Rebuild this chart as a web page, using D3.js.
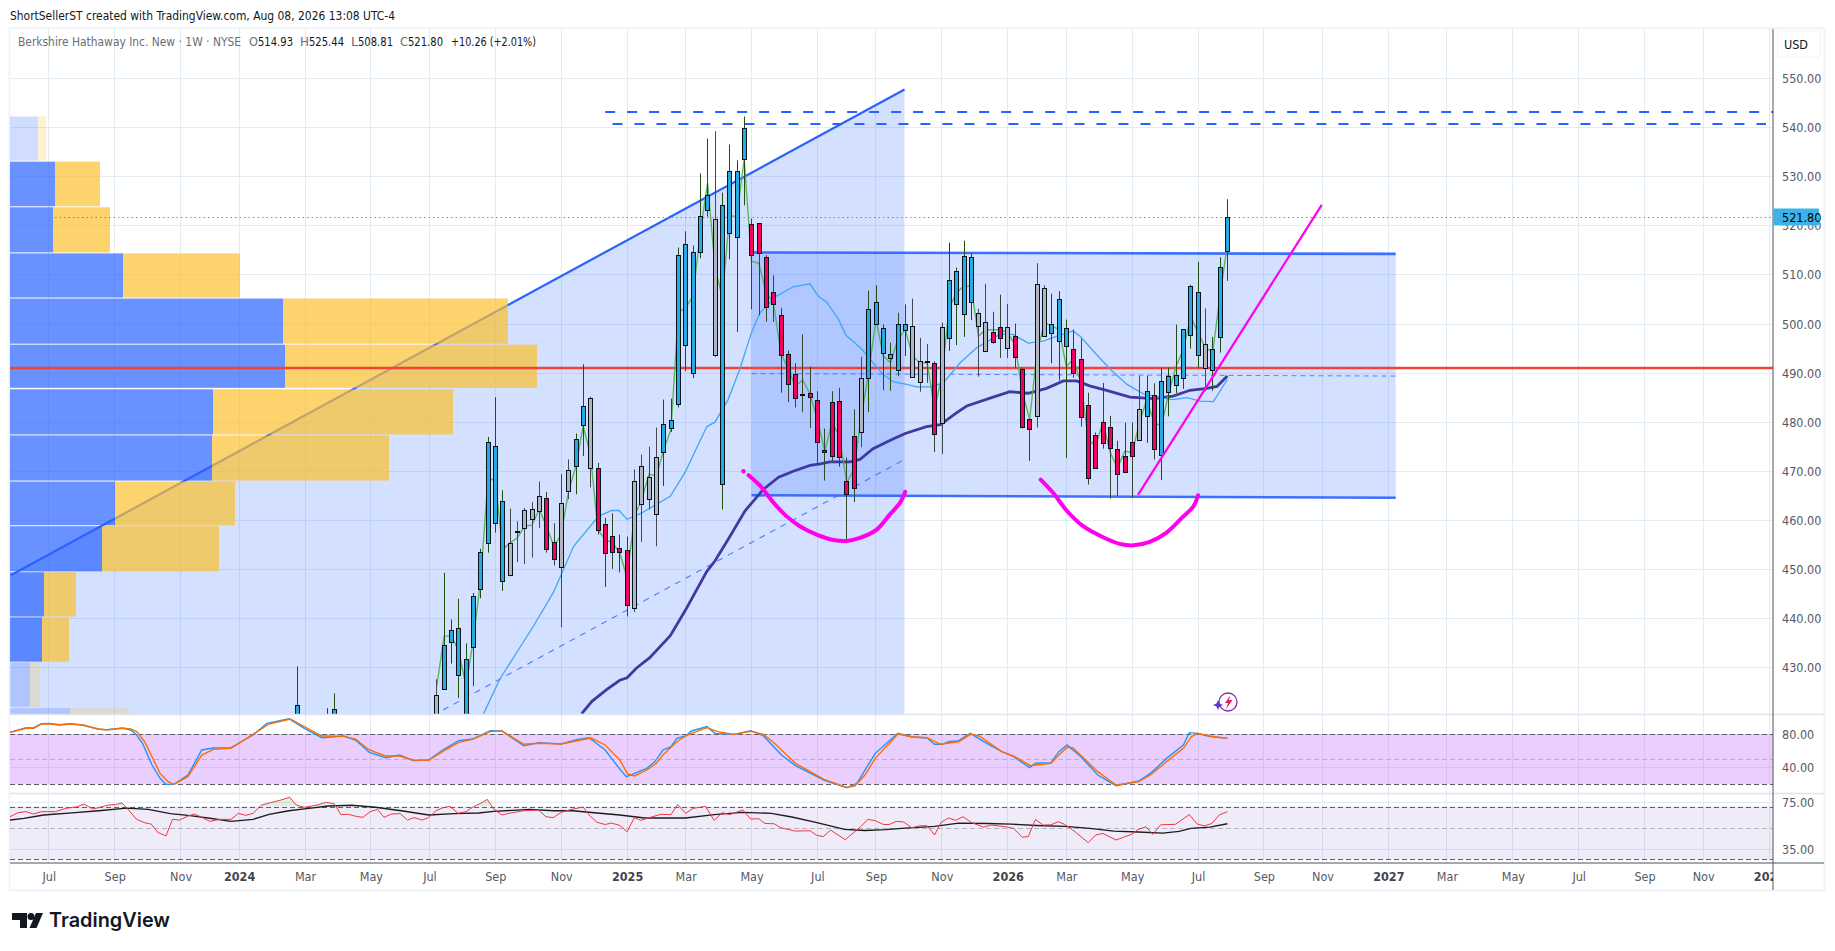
<!DOCTYPE html>
<html>
<head>
<meta charset="utf-8">
<script src="https://cdn.jsdelivr.net/npm/d3@7"></script>
<style>
  html, body { margin: 0; padding: 0; background: #fff; overflow: hidden; }
  text { font-family: 'DejaVu Sans Condensed', 'DejaVu Sans', sans-serif; }
</style>
</head>
<body>
<div id="app"></div>
<script>
'use strict'

// bars are counted back from the last weekly candle (0 = Aug 2026, negative = future)
const monthBars = [161, 152, 143, 135, 126, 117, 109, 100, 91, 82, 74, 65, 56, 48, 39, 30, 22, 13, 4, -5, -13, -22, -30, -39, -48, -57, -65, -74]
const monthLabels = ['Jul', 'Sep', 'Nov', '2024', 'Mar', 'May', 'Jul', 'Sep', 'Nov', '2025', 'Mar', 'May', 'Jul', 'Sep', 'Nov', '2026', 'Mar', 'May', 'Jul', 'Sep', 'Nov', '2027', 'Mar', 'May', 'Jul', 'Sep', 'Nov', '2028']
const priceTicks = [550, 540, 530, 520, 510, 500, 490, 480, 470, 460, 450, 440, 430]

const candleBars = [127, 123, 122].concat(d3.range(108, -1, -1))
const kinds = 'uuu g uuuuuuuuu ggggg dd gg uu g ddddd gggg uuuuuuu g uuuu ddddddddddddddd g uuuuuu ggg d g uuuu gg dd g ddd gg uuu ddddddddd g u d uuuuuu g uuu'.replace(/ /g, '')
const highs = [430.2, 421.7, 424.7, 427.6, 449.3, 439.8, 444.0, 434.9, 445.2, 454.2, 477.0, 485.1, 466.1, 462.4, 459.8, 462.5, 463.7, 467.9, 465.8, 459.4, 469.4, 472.4, 477.7, 491.8, 485.2, 471.7, 460.5, 461.4, 457.1, 456.7, 470.4, 473.4, 475.0, 478.9, 484.6, 484.8, 515.6, 518.9, 516.0, 530.7, 537.8, 539.3, 526.8, 536.6, 533.4, 542.3, 521.5, 520.5, 514.0, 509.9, 503.3, 494.6, 492.0, 497.9, 491.3, 486.3, 478.7, 486.3, 487.0, 472.8, 482.6, 493.3, 506.8, 507.9, 499.9, 496.2, 502.3, 504.0, 505.2, 497.2, 495.9, 492.4, 500.3, 516.6, 511.5, 517.0, 514.5, 503.1, 508.2, 502.5, 506.0, 504.1, 500.1, 491.1, 480.7, 512.4, 507.9, 506.2, 506.7, 500.9, 498.9, 497.0, 486.0, 477.9, 488.0, 481.3, 476.2, 479.9, 479.9, 489.5, 489.5, 487.9, 491.1, 491.1, 499.9, 498.9, 508.0, 512.7, 503.2, 497.4, 513.6, 525.44]
const bodyTops = [422.3, 418, 421.6, 424.4, 434.6, 437.7, 438.1, 431.8, 444.6, 453.6, 476.0, 475.2, 464.0, 455.4, 457.8, 462.2, 462.4, 465.0, 464.6, 455.6, 463.6, 470.3, 476.6, 483.2, 485.0, 470.7, 459.3, 456.7, 454.4, 454.0, 468.1, 471.1, 468.9, 473.0, 479.7, 480.5, 514.0, 516.4, 514.7, 522.1, 526.4, 521.5, 524.3, 531.1, 531.1, 540.0, 520.3, 520.5, 513.7, 506.6, 501.9, 493.8, 489.9, 485.8, 486.0, 484.6, 474.4, 484.2, 484.4, 468.1, 477.2, 489.1, 503.1, 504.4, 499.1, 493.8, 500.1, 500.1, 499.7, 492.5, 492.4, 492.1, 499.3, 509.0, 510.9, 513.9, 513.7, 502.3, 500.5, 498.4, 499.3, 499.3, 497.6, 490.9, 480.7, 508.2, 507.4, 500.1, 505.2, 499.1, 495.0, 492.9, 483.6, 477.4, 480.1, 479.1, 474.6, 473.2, 476.0, 482.7, 486.4, 485.6, 488.3, 489.5, 489.7, 498.9, 507.8, 506.6, 496.0, 495.0, 511.7, 521.80]
const bodyBottoms = [410, 410, 412, 410, 425.7, 435.3, 428.5, 415, 434.2, 446.1, 455.4, 459.5, 447.7, 448.9, 457.6, 458.5, 460.3, 462.0, 454.2, 452.2, 450.5, 466.0, 471.1, 479.3, 470.7, 458.1, 453.4, 453.4, 453.6, 442.8, 442.2, 463.4, 464.4, 461.3, 474.0, 478.9, 483.6, 495.8, 490.1, 514.7, 523.3, 493.8, 467.5, 518.4, 517.6, 533.7, 513.9, 514.3, 503.5, 504.1, 493.8, 487.6, 485.0, 485.6, 485.2, 476.0, 474.0, 473.2, 473.0, 465.4, 466.6, 478.1, 489.1, 499.9, 494.0, 492.9, 490.7, 498.9, 489.3, 488.3, 492.2, 477.7, 479.7, 497.2, 504.1, 502.1, 504.6, 499.7, 494.6, 496.4, 497.0, 495.0, 493.3, 479.1, 478.7, 481.3, 497.6, 498.2, 496.6, 495.4, 490.1, 481.1, 468.7, 470.7, 475.8, 474.8, 469.5, 469.9, 473.2, 476.4, 481.3, 474.6, 473.2, 486.2, 487.6, 488.9, 497.8, 493.8, 491.1, 490.7, 497.4, 514.93]
const lows = [405, 405, 408, 408, 425.7, 430.8, 423.8, 412, 426.2, 444.1, 453.4, 457.5, 445.6, 448.6, 451.5, 451.1, 452.4, 458.4, 453.4, 450.8, 438.2, 464.3, 465.3, 473.1, 466.7, 457.1, 446.4, 450.1, 449.4, 440.4, 441.3, 455.6, 462.2, 454.7, 467.0, 478.0, 483.0, 490.4, 489.0, 513.4, 521.9, 493.3, 462.2, 513.2, 498.4, 524.2, 503.0, 501.8, 500.5, 500.4, 486.0, 484.1, 483.0, 482.1, 478.8, 471.5, 468.1, 472.1, 470.9, 455.4, 463.7, 474.9, 482.1, 499.9, 486.5, 486.4, 489.4, 493.5, 489.3, 486.2, 488.0, 473.9, 473.5, 494.5, 495.7, 497.4, 500.8, 489.3, 494.6, 496.0, 493.1, 493.1, 491.1, 478.7, 472.1, 478.9, 497.6, 492.0, 488.5, 472.7, 489.1, 479.1, 467.3, 470.7, 474.6, 464.4, 464.9, 469.7, 464.6, 476.2, 475.8, 472.4, 468.2, 481.2, 485.9, 486.8, 495.0, 491.1, 486.3, 486.4, 494.2, 508.81]

// green short average, one value per candle from bar 108 to bar 0
const shortAverage = [426.2, 436.4, 436.4, 433.3, 426.2, 435.7, 447.9, 468.7, 468.0, 454.1, 455.4, 456.4, 458.8, 459.0, 462.2, 458.8, 454.7, 457.1, 465.9, 471.0, 479.2, 473.4, 458.1, 456.1, 455.4, 453.4, 448.3, 460.8, 464.3, 469.4, 469.0, 474.4, 478.5, 502.4, 503.3, 505.7, 518.6, 528.8, 511.8, 505.4, 522.0, 522.0, 533.6, 512.8, 512.4, 506.4, 504.3, 494.2, 490.8, 487.4, 488.6, 485.7, 480.6, 474.1, 479.9, 477.2, 467.7, 470.4, 481.2, 490.1, 500.9, 493.5, 492.1, 496.9, 498.9, 493.5, 492.1, 492.1, 482.6, 489.4, 503.3, 506.4, 507.7, 507.7, 497.5, 498.9, 498.8, 498.9, 498.2, 495.8, 486.0, 480.6, 494.2, 500.3, 499.6, 498.9, 491.4, 492.8, 488.0, 476.5, 475.1, 479.9, 473.8, 470.7, 474.1, 473.8, 479.9, 484.6, 479.9, 479.2, 486.0, 491.4, 494.8, 501.6, 498.2, 495.2, 494.2, 505.7, 516.2]

const fastBars = [101.6, 99.4, 97.1, 94.8, 92.1, 89.3, 85.9, 84.1, 83.1, 82, 80, 76.1, 74.1, 71.1, 70, 68.2, 66.6, 65, 63.8, 61.6, 59.3, 57, 55.9, 54.7, 53.1, 52.1, 50.9, 49.7, 48.4, 47, 45.6, 43.8, 42.4, 40.6, 38.8, 36.5, 34.2, 31.1, 29.3, 27.2, 25.2, 23.3, 21.1, 20.1, 18.3, 16, 13.7, 11.5, 9.2, 7.4, 5.5, 3.7, 1.9, 0]
const fastValues = [420.6, 427.6, 433.0, 438.4, 445.2, 454.7, 460.8, 462.0, 462.0, 460.2, 461.5, 464.9, 469.7, 479.1, 480.0, 484.6, 490.8, 498.3, 502.4, 505.7, 507.6, 508.2, 505.7, 504.4, 500.9, 497.7, 496.2, 494.5, 492.1, 489.7, 488.2, 487.7, 487.2, 487.2, 488.0, 492.1, 495.2, 497.9, 497.9, 496.1, 496.5, 497.5, 498.6, 497.5, 494.5, 490.8, 487.7, 485.8, 485.0, 484.6, 485.0, 484.3, 484.2, 488.7]
const slowBars = [88.2, 86.8, 84.8, 83, 82, 80.7, 78.9, 76.1, 74.1, 71.1, 70, 68.2, 65.9, 63.4, 61.3, 59.3, 57, 55.6, 54.3, 51.5, 50.2, 48.4, 45.6, 44, 41.1, 39.2, 37, 35.6, 32, 29.7, 27.2, 24.7, 22.4, 20.6, 18.8, 16.5, 13.3, 10.1, 7.4, 5.1, 2.8, 1.4, 0]
const slowValues = [420.6, 423.1, 425.5, 427.4, 427.9, 429.9, 432.0, 436.5, 441.5, 449.6, 451.7, 456.1, 461.9, 466.3, 468.8, 470.0, 471.2, 471.5, 471.9, 471.9, 472.4, 474.6, 476.6, 477.7, 479.1, 479.5, 481.9, 483.3, 485.1, 486.2, 485.9, 486.9, 488.4, 488.4, 487.4, 486.5, 485.1, 484.8, 485.3, 486.5, 486.9, 487.3, 489.4]

// visible range volume, top of each price bin and the two sides of the row
const profileTops = [542.3, 533.1, 523.8, 514.4, 505.2, 495.8, 486.7, 477.3, 467.9, 458.8, 449.4, 440.2, 431.0, 421.7]
const profileBottoms = [533.3, 524.0, 514.6, 505.4, 496.0, 487.0, 477.5, 468.1, 459.0, 449.6, 440.4, 431.2, 422.0, 412]
const profileBuy = [28, 45, 43, 113, 273, 275, 203, 202, 105, 92, 34, 32, 20, 60]
const profileSell = [8, 45, 57, 117, 225, 252, 240, 177, 120, 117, 32, 27, 10, 59]
const profileFaded = [true, false, false, false, false, false, false, false, false, false, false, false, true, true]

// drawings on the chart
const channelBars = [166.2, 44.1]
const channelPrices = [448.8, 547.8]
const channelLowerPrices = [373.5, 472.4]
const rangeBars = [65, -23]
const rangeTop = [514.6, 514.3]
const rangeMid = [489.9, 489.4]
const rangeBottom = [465.1, 464.6]
const resistanceA = 543.3
const resistanceB = 540.7
const supportLine = 491.0
const lastClose = 521.80
const riseBars = [12.2, -12.9]
const risePrices = [465.2, 524.3]
const cupLeftBars = [65.4, 63.8, 62, 60.2, 58.4, 56.1, 53.8, 52, 50.2, 47.9, 46.1, 44.7, 44]
const cupLeftPrices = [469.2, 467, 463.6, 460.8, 458.8, 457.1, 456, 455.8, 456.4, 458.1, 461.2, 463.6, 465.8]
const cupRightBars = [25.5, 23.8, 21.9, 19.7, 16.9, 14.7, 12.8, 10.6, 8.3, 6, 4.6, 4]
const cupRightPrices = [468.3, 465.6, 461.9, 458.8, 456.5, 455.2, 454.9, 455.6, 457.5, 460.8, 462.9, 465.1]

// stochastic pane
const stochKBars = [166.3, 164.1, 163.1, 162, 160.9, 159.6, 158, 156.3, 154.2, 153.1, 150.9, 149.8, 149, 148.2, 146.9, 145.8, 145, 143.9, 142, 140.1, 138.5, 136.1, 133.1, 131.2, 128.2, 126.1, 123.7, 120.7, 119.1, 117.2, 115, 113.1, 111.2, 109.1, 107.2, 105, 103.1, 100.7, 99.1, 96.1, 94, 91, 88.8, 87.2, 85, 83, 82.1, 79.3, 78.2, 77.1, 76, 75.2, 74, 73.2, 71.1, 70, 67.4, 65.1, 63.4, 60.9, 59, 55.1, 52, 50.6, 48.1, 45, 43.1, 41, 40, 38.9, 38.1, 36.7, 35.1, 33.1, 30.8, 29.2, 27, 26.2, 24.1, 23, 21.9, 20, 17.7, 15.2, 12.1, 10.5, 8.3, 6, 5.2, 4.1, 2.4, 0]
const stochK = [82, 87.6, 87.2, 92.3, 92.7, 91.1, 92.3, 90.4, 85.6, 85.2, 87.2, 84.8, 78.8, 68.9, 43, 27.1, 19.9, 19.9, 31, 60.9, 63.3, 63.7, 78.8, 92.7, 98.3, 86.8, 75.6, 77.6, 72.8, 58.1, 51.7, 54.9, 48.2, 49, 60.9, 72, 74, 84, 83.6, 66.1, 69.7, 68.1, 73.6, 75.6, 60.9, 38.2, 29.1, 39, 47, 60.9, 64.9, 74.8, 77.6, 83.6, 88.8, 80.8, 79.6, 84, 78, 54.9, 42.2, 25.1, 15.9, 21.1, 56.9, 80.8, 76.4, 75.2, 67.7, 67.7, 70.8, 72, 80.8, 70.1, 58.9, 52.9, 39.8, 45, 45.8, 58.9, 66.9, 52.9, 31, 18.3, 23.9, 33, 50.9, 66.9, 81.6, 80.8, 76.8, 74.8]
const stochDBars = [166.3, 164.1, 163.1, 162, 160.9, 159.6, 158, 156.3, 154.2, 153.1, 150.9, 149.8, 149, 147.9, 146.9, 145.8, 144.7, 143.9, 142, 140.1, 138.5, 136.1, 133.1, 130.9, 128, 126.1, 123.7, 120.7, 119.1, 117.2, 115, 113.1, 111.2, 109.1, 107.2, 105, 103.1, 100.7, 99.1, 96.1, 94, 91, 88.8, 86.9, 85, 83, 81.9, 81, 79.3, 78, 77.1, 75.2, 73.8, 71.1, 69.6, 67.4, 65.1, 63.4, 62.1, 60.9, 59, 55.1, 52, 50.9, 49.5, 48.1, 45, 43.1, 41, 39.2, 36.7, 35.1, 33.9, 30.8, 29.2, 26.9, 24.1, 23, 21.9, 21.1, 17.7, 15.2, 12.1, 10.5, 8.3, 6, 4.9, 4.1, 2.4, 0]
const stochD = [82, 86.8, 86.8, 91.9, 92.3, 90.8, 91.9, 90.8, 86, 84.8, 86.8, 86, 82.8, 70.8, 52.9, 33, 23.1, 19.9, 29.1, 54.9, 61.7, 62.9, 79.6, 91.9, 97.9, 88.8, 77.6, 77.2, 74, 60.9, 53.7, 53.7, 49, 48.6, 58.9, 70.1, 73.6, 82.8, 83.6, 67.7, 68.9, 68.1, 72, 75.2, 66.9, 49, 32.2, 29.9, 37, 45, 54.9, 70.8, 78.8, 87.6, 82.8, 79.6, 83.2, 79.6, 70.8, 60.9, 45, 25.9, 16.3, 17.9, 31, 50.9, 80, 76.8, 75.6, 67.7, 70.8, 79.6, 77.6, 58.9, 53.7, 42.2, 45, 54.9, 64.1, 63.7, 35, 19.1, 23.1, 31, 47, 62.9, 76.8, 80.8, 77.6, 74.8]
const stochLevels = [80, 50, 20]
const stochTicks = [80, 40]

// rsi pane
const rsiBars = [166.3, 165.2, 164.1, 163.1, 162, 160.1, 158.7, 157.1, 156.2, 155, 154.2, 152.8, 151.9, 151, 150.1, 149, 147.9, 147, 146.1, 145, 144.1, 143.1, 142, 141.1, 140.1, 139, 137.7, 136.1, 135.1, 134.1, 133.1, 132, 130.7, 129.3, 128.1, 127.2, 126.1, 124.5, 123.1, 122, 121.1, 120.1, 119, 118.1, 117.1, 116.1, 115.2, 114.2, 113, 112, 111.1, 110, 109.1, 108.1, 107.2, 106.2, 105.1, 104, 103, 102, 101.1, 100.2, 99.1, 97.7, 96.9, 96.1, 94.1, 93.1, 92.1, 91, 89.6, 88, 87.2, 86.1, 85, 84.1, 83, 82, 81, 80.1, 79.1, 77.4, 76, 75.1, 74, 73, 71.3, 70.1, 69, 68, 66.2, 65.1, 64, 63.2, 61.9, 61, 59, 57, 56.1, 55.2, 54.2, 52.2, 50.1, 49.1, 48.1, 47, 46.2, 45.2, 44.2, 43.1, 42, 41, 40, 39.1, 38.1, 37.1, 36.1, 35, 33.3, 32.2, 30.3, 29.2, 28, 27.2, 26.2, 25.2, 24.1, 23.1, 22.2, 21.1, 20, 19, 18, 17, 15.2, 13, 12.2, 11.1, 10.2, 9.1, 7.1, 5.2, 4.1, 3.1, 2.1, 1.1, 0]
const rsi = [59.5, 63.5, 64.5, 62.1, 64.5, 64.5, 68, 69.9, 73, 67.3, 68.8, 71.9, 72.3, 74.2, 66.2, 57, 54, 52.8, 46.2, 43.7, 57, 56.4, 60.1, 62.1, 58.9, 55.2, 57, 57, 62.8, 60.8, 62.8, 71.5, 74.6, 77.8, 81.3, 71.9, 69.2, 71.5, 75, 73.4, 61.5, 61.8, 59.8, 58.9, 64.5, 66.9, 58.9, 62.1, 62.5, 56.4, 58.6, 56.4, 58.6, 65.5, 68.6, 70.3, 62.8, 64.5, 69.9, 73.8, 78.6, 67.3, 61.2, 63.5, 64.5, 65.5, 66.2, 59.5, 58.6, 63.8, 66.9, 69.5, 61.2, 54.3, 52.5, 53.7, 51.7, 46.7, 58.6, 56.1, 58.3, 61.8, 61.5, 72.3, 62.8, 68, 70.3, 56.1, 63.5, 61.5, 66.2, 57.3, 57.6, 53.4, 53.1, 49.8, 47.2, 47.5, 44.1, 43.2, 48, 41.1, 50.6, 57, 55.8, 52.5, 52.5, 55.2, 54.6, 49.8, 51.4, 51.4, 44.3, 54.3, 58.3, 56.1, 59.5, 54.3, 50.3, 52, 50.6, 49.3, 42.8, 43.2, 57, 52, 52.2, 54.9, 52.5, 48, 43.2, 39.2, 44.3, 45.5, 40.9, 45, 48.5, 50.6, 44.8, 52.3, 52.6, 61.5, 52.8, 51.4, 53.4, 61.2, 64.5]
const rsiMaBars = [166.3, 164.4, 161.7, 157.4, 154.2, 150.4, 147.4, 144.4, 141.7, 139, 136.1, 133.1, 130.9, 128.2, 125.5, 122.8, 119.6, 116.4, 112.6, 109.1, 105.6, 102.3, 100.2, 95.3, 92.1, 89.4, 86.1, 83, 79.6, 74, 70.1, 66.2, 62.3, 59.5, 56.2, 52.3, 49.5, 46.7, 44, 40, 36.7, 32.8, 29.5, 26.1, 22.2, 18.8, 15.5, 12.2, 8.8, 6.6, 5, 2.4, 0]
const rsiMa = [56.4, 57.9, 61.2, 63.5, 65.5, 68.3, 66.9, 62.5, 60.5, 58, 55.2, 57, 61.8, 65.5, 68, 70.6, 71.5, 69.2, 65.2, 61.2, 62.5, 63.2, 64.8, 66.9, 65.5, 65.5, 63.2, 61.2, 58.3, 58.3, 61.5, 63.8, 62.8, 59.2, 54.3, 48.5, 47.7, 48.3, 49.5, 50.9, 53.7, 53.4, 52.8, 51.7, 50.9, 49.3, 47.2, 46.5, 45.7, 47, 49.3, 50.3, 53.1]
const rsiLevels = [70, 50, 30]
const rsiTicks = [75, 35]

const width = 1835
const height = 951
const plotLeft = 10
const plotRight = 1773
const plotTop = 29
const mainBottom = 714.5
const stochBottom = 793.5
const rsiBottom = 863
const frameBottom = 890

const bodyColor = { u: '#27aae1', d: '#f5005c', g: '#b2b5be' }
const wickColor = { u: '#234f0c', d: '#33472a', g: '#45484e' }

const x = d3.scaleLinear().domain([161, -74]).range([48.8, 1769])
const y = d3.scaleLinear().domain([540, 460]).range([127.8, 520.3])
const yStoch = d3.scaleLinear().domain([80, 40]).range([734, 767.5])
const yRsi = d3.scaleLog().domain([75, 35]).range([802.3, 849.7])
const profileX = d3.scaleLinear().domain([0, 600]).range([plotLeft, plotLeft + 600])

const svg = d3.select('#app').append('svg')
  .attr('width', width)
  .attr('height', height)

const defs = svg.append('defs')
defs.append('clipPath').attr('id', 'main-clip').append('rect')
  .attr('x', plotLeft).attr('y', plotTop).attr('width', plotRight - plotLeft).attr('height', mainBottom - plotTop)
defs.append('clipPath').attr('id', 'time-clip').append('rect')
  .attr('x', plotLeft).attr('y', rsiBottom).attr('width', plotRight - plotLeft).attr('height', frameBottom - rsiBottom)
defs.append('clipPath').attr('id', 'rsi-over').append('rect')
  .attr('x', plotLeft).attr('y', stochBottom).attr('width', plotRight - plotLeft).attr('height', yRsi(70) - stochBottom)

// header
svg.append('text')
  .attr('x', 10).attr('y', 19.5)
  .attr('textLength', 385).attr('lengthAdjust', 'spacingAndGlyphs')
  .style('font-size', '13px').style('fill', '#131722')
  .text('ShortSellerST created with TradingView.com, Aug 08, 2026 13:08 UTC-4')

// frame
svg.append('rect')
  .attr('x', 9.5).attr('y', 28).attr('width', 1815).attr('height', 862.5)
  .style('fill', 'none').style('stroke', '#f0f3fa').style('stroke-width', 2)

// grid
const grid = svg.append('g').style('shape-rendering', 'crispEdges')
grid.selectAll('.vgrid').data(monthBars).enter().append('line')
  .attr('x1', d => x(d)).attr('x2', d => x(d))
  .attr('y1', plotTop).attr('y2', rsiBottom)
  .style('stroke', '#e3ebf3').style('stroke-width', 1)
grid.selectAll('.hgrid').data(priceTicks).enter().append('line')
  .attr('x1', plotLeft).attr('x2', plotRight)
  .attr('y1', d => y(d)).attr('y2', d => y(d))
  .style('stroke', '#e3ebf3').style('stroke-width', 1)
grid.selectAll('.sgrid').data(stochTicks).enter().append('line')
  .attr('x1', plotLeft).attr('x2', plotRight)
  .attr('y1', d => yStoch(d)).attr('y2', d => yStoch(d))
  .style('stroke', '#e3ebf3')
grid.selectAll('.rgrid').data(rsiTicks).enter().append('line')
  .attr('x1', plotLeft).attr('x2', plotRight)
  .attr('y1', d => yRsi(d)).attr('y2', d => yRsi(d))
  .style('stroke', '#e3ebf3')

const main = svg.append('g').attr('clip-path', 'url(#main-clip)')
const line = d3.line()

// channel fill and range box
main.append('path')
  .attr('d', line([
    [x(channelBars[0]), y(channelPrices[0])],
    [x(channelBars[1]), y(channelPrices[1])],
    [x(channelBars[1]), mainBottom],
    [x(channelBars[0]), mainBottom]
  ]))
  .style('fill', 'rgba(41,98,255,0.2)')
main.append('path')
  .attr('d', line([
    [x(rangeBars[0]), y(rangeTop[0])],
    [x(rangeBars[1]), y(rangeTop[1])],
    [x(rangeBars[1]), y(rangeBottom[1])],
    [x(rangeBars[0]), y(rangeBottom[0])]
  ]))
  .style('fill', 'rgba(41,98,255,0.2)')

const twoPoint = (bars, prices) => line(bars.map((b, i) => [x(b), y(prices[i])]))

main.append('path').attr('d', twoPoint(channelBars, channelPrices))
  .style('stroke', '#2962ff').style('stroke-width', 2.2).style('fill', 'none')
main.append('path').attr('d', twoPoint(channelBars, channelLowerPrices))
  .style('stroke', '#2962ff').style('stroke-width', 1.1).style('stroke-dasharray', '6 6').style('fill', 'none').style('opacity', 0.8)
main.append('path').attr('d', twoPoint(rangeBars, rangeTop))
  .style('stroke', '#2962ff').style('stroke-width', 2.6).style('fill', 'none').style('opacity', 0.9)
main.append('path').attr('d', twoPoint(rangeBars, rangeBottom))
  .style('stroke', '#2962ff').style('stroke-width', 2.6).style('fill', 'none').style('opacity', 0.9)
main.append('path').attr('d', twoPoint(rangeBars, rangeMid))
  .style('stroke', '#2962ff').style('stroke-width', 1).style('stroke-dasharray', '5 4').style('fill', 'none').style('opacity', 0.75)

// volume profile rows
const rows = main.selectAll('.row').data(profileBuy).enter().append('g')
  .style('opacity', (d, i) => profileFaded[i] ? 0.3 : 1)
rows.append('rect')
  .attr('x', profileX(0))
  .attr('y', (d, i) => y(profileTops[i]))
  .attr('width', d => profileX(d) - profileX(0))
  .attr('height', (d, i) => y(profileBottoms[i]) - y(profileTops[i]))
  .style('fill', 'rgba(41,98,255,0.7)')
rows.append('rect')
  .attr('x', d => profileX(d))
  .attr('y', (d, i) => y(profileTops[i]))
  .attr('width', (d, i) => profileX(profileSell[i]) - profileX(0))
  .attr('height', (d, i) => y(profileBottoms[i]) - y(profileTops[i]))
  .style('fill', 'rgba(251,192,45,0.7)')

// horizontal drawings, on whole pixels so they stay sharp
main.append('line')
  .attr('x1', x(85)).attr('x2', plotRight)
  .attr('y1', Math.round(y(resistanceA))).attr('y2', Math.round(y(resistanceA)))
  .style('stroke', '#2962ff').style('stroke-width', 2).style('stroke-dasharray', '10 12')
main.append('line')
  .attr('x1', x(84)).attr('x2', plotRight - 7)
  .attr('y1', Math.round(y(resistanceB))).attr('y2', Math.round(y(resistanceB)))
  .style('stroke', '#2962ff').style('stroke-width', 2).style('stroke-dasharray', '10 12')
main.append('line')
  .attr('x1', plotLeft).attr('x2', plotRight)
  .attr('y1', Math.round(y(supportLine))).attr('y2', Math.round(y(supportLine)))
  .style('stroke', '#f44336').style('stroke-width', 2.4)
main.append('line')
  .attr('x1', plotLeft).attr('x2', plotRight)
  .attr('y1', Math.round(y(lastClose)) + 0.5).attr('y2', Math.round(y(lastClose)) + 0.5)
  .style('stroke', '#29a9e0').style('stroke-width', 1).style('stroke-dasharray', '1.5 3')

// moving averages
const seriesLine = (bars, scale) => d3.line().x((d, i) => x(bars[i])).y(d => scale(d))
main.append('path').datum(slowValues)
  .attr('d', seriesLine(slowBars, y))
  .style('fill', 'none').style('stroke', '#3f3aa0').style('stroke-width', 2.8)
main.append('path').datum(fastValues)
  .attr('d', seriesLine(fastBars, y))
  .style('fill', 'none').style('stroke', '#42a5f5').style('stroke-width', 1.3)
main.append('path').datum(shortAverage)
  .attr('d', seriesLine(d3.range(108, -1, -1), y))
  .style('fill', 'none').style('stroke', '#4caf50').style('stroke-width', 1.4).style('opacity', 0.9)

// candles, snapped to the pixel grid like the original canvas
const snapX = d => Math.round(x(d) - 0.3)
const candles = main.selectAll('.candle').data(candleBars).enter().append('g')
candles.append('line')
  .attr('x1', d => snapX(d) + 0.5).attr('x2', d => snapX(d) + 0.5)
  .attr('y1', (d, i) => y(highs[i])).attr('y2', (d, i) => y(lows[i]))
  .style('stroke', (d, i) => wickColor[kinds[i]]).style('stroke-width', 1)
candles.append('rect')
  .attr('x', d => snapX(d) - 1.5)
  .attr('width', 4)
  .attr('y', (d, i) => Math.round(y(bodyTops[i])) + 0.5)
  .attr('height', (d, i) => Math.max(1, Math.round(y(bodyBottoms[i]) - y(bodyTops[i]))))
  .style('fill', (d, i) => bodyColor[kinds[i]])
  .style('stroke', '#05141c').style('stroke-width', 1)

// hand drawn cups and the rising line
const cupLine = (bars, prices) => d3.line().curve(d3.curveCatmullRom)(bars.map((b, i) => [x(b), y(prices[i])]))
main.append('circle').attr('cx', x(66.1)).attr('cy', y(470)).attr('r', 2.2).style('fill', '#ff00ee')
main.append('path').attr('d', cupLine(cupLeftBars, cupLeftPrices))
  .style('fill', 'none').style('stroke', '#ff00ee').style('stroke-width', 4).style('stroke-linecap', 'round')
main.append('path').attr('d', cupLine(cupRightBars, cupRightPrices))
  .style('fill', 'none').style('stroke', '#ff00ee').style('stroke-width', 4).style('stroke-linecap', 'round')
main.append('path').attr('d', twoPoint(riseBars, risePrices))
  .style('fill', 'none').style('stroke', '#ff00ee').style('stroke-width', 2.2)

// pane separators
svg.selectAll('.sep').data([mainBottom, stochBottom]).enter().append('line')
  .attr('x1', plotLeft).attr('x2', 1824)
  .attr('y1', d => d).attr('y2', d => d)
  .style('stroke', '#e0e3eb').style('stroke-width', 1.5)

// stochastic pane
svg.append('rect')
  .attr('x', plotLeft).attr('width', plotRight - plotLeft)
  .attr('y', yStoch(80)).attr('height', yStoch(20) - yStoch(80))
  .style('fill', 'rgba(170,60,250,0.25)')
svg.selectAll('.slevel').data(stochLevels).enter().append('line')
  .attr('x1', plotLeft).attr('x2', plotRight)
  .attr('y1', d => Math.round(yStoch(d)) + 0.5).attr('y2', d => Math.round(yStoch(d)) + 0.5)
  .style('stroke', d => d === 50 ? '#b2b5be' : '#5d606b')
  .style('stroke-dasharray', '5 3').style('stroke-width', 1)
svg.append('path').datum(stochK)
  .attr('d', seriesLine(stochKBars, yStoch))
  .style('fill', 'none').style('stroke', '#2196f3').style('stroke-width', 1.4)
svg.append('path').datum(stochD)
  .attr('d', seriesLine(stochDBars, yStoch))
  .style('fill', 'none').style('stroke', '#ff6d00').style('stroke-width', 1.4)

// rsi pane
svg.append('rect')
  .attr('x', plotLeft).attr('width', plotRight - plotLeft)
  .attr('y', yRsi(70)).attr('height', yRsi(30) - yRsi(70))
  .style('fill', 'rgba(126,87,194,0.12)')
svg.selectAll('.rlevel').data(rsiLevels).enter().append('line')
  .attr('x1', plotLeft).attr('x2', plotRight)
  .attr('y1', d => Math.round(yRsi(d)) + 0.5).attr('y2', d => Math.round(yRsi(d)) + 0.5)
  .style('stroke', d => d === 50 ? '#b2b5be' : '#5d606b')
  .style('stroke-dasharray', '5 3').style('stroke-width', 1)
svg.append('path').datum(rsi)
  .attr('clip-path', 'url(#rsi-over)')
  .attr('d', d3.area().x((d, i) => x(rsiBars[i])).y0(yRsi(70)).y1(d => yRsi(d)))
  .style('fill', 'rgba(76,175,80,0.18)')
svg.append('path').datum(rsiMa)
  .attr('d', seriesLine(rsiMaBars, yRsi))
  .style('fill', 'none').style('stroke', '#1c1c1c').style('stroke-width', 1.4)
svg.append('path').datum(rsi)
  .attr('d', seriesLine(rsiBars, yRsi))
  .style('fill', 'none').style('stroke', '#f23645').style('stroke-width', 1)

// axes
const styleAxis = (g, color) => {
  g.select('.domain').remove()
  g.selectAll('.tick line').remove()
  g.selectAll('text').style('font-size', '12.5px').style('fill', color)
    .style('font-family', "'DejaVu Sans Condensed', sans-serif")
}

const axisFormat = d3.format('.2f')
svg.append('g').attr('transform', `translate(${plotRight}, 0)`)
  .call(d3.axisRight(y).tickValues(priceTicks).tickFormat(axisFormat).tickPadding(9).tickSize(0))
  .call(styleAxis, '#555963')
svg.append('g').attr('transform', `translate(${plotRight}, 0)`)
  .call(d3.axisRight(yStoch).tickValues(stochTicks).tickFormat(axisFormat).tickPadding(9).tickSize(0))
  .call(styleAxis, '#555963')
svg.append('g').attr('transform', `translate(${plotRight}, 0)`)
  .call(d3.axisRight(yRsi).tickValues(rsiTicks).tickFormat(axisFormat).tickPadding(9).tickSize(0))
  .call(styleAxis, '#555963')

const timeAxis = svg.append('g').attr('clip-path', 'url(#time-clip)').append('g')
  .attr('transform', `translate(0, ${rsiBottom})`)
  .call(d3.axisBottom(x).tickValues(monthBars).tickFormat((d, i) => monthLabels[i]).tickPadding(9).tickSize(0))
  .call(styleAxis, '#555963')
timeAxis.selectAll('text')
  .filter((d, i) => monthLabels[i].length === 4)
  .style('font-weight', 'bold').style('fill', '#43464f')

svg.append('line')
  .attr('x1', plotLeft).attr('x2', 1824)
  .attr('y1', rsiBottom).attr('y2', rsiBottom)
  .style('stroke', '#50535e').style('stroke-width', 1)
svg.append('line')
  .attr('x1', plotRight).attr('x2', plotRight)
  .attr('y1', plotTop).attr('y2', frameBottom)
  .style('stroke', '#50535e').style('stroke-width', 1)

// last price label
svg.append('rect')
  .attr('x', plotRight + 0.5).attr('y', y(lastClose) - 8.5)
  .attr('width', 45.5).attr('height', 17).attr('rx', 1)
  .style('fill', '#3bb3e6')
svg.append('text')
  .attr('x', 1782).attr('y', y(lastClose) + 4.5)
  .style('font-size', '12.5px').style('fill', '#000')
  .text(axisFormat(lastClose))

// currency box
svg.append('rect')
  .attr('x', 1777.5).attr('y', 31).attr('width', 43).attr('height', 26).attr('rx', 3)
  .style('fill', '#fff').style('stroke', '#f0f3fa')
svg.append('text')
  .attr('x', 1796).attr('y', 49).attr('text-anchor', 'middle')
  .style('font-size', '12.5px').style('fill', '#131722')
  .text('USD')

// legend row
const legend = [
  { x: 18, w: 223, t: 'Berkshire Hathaway Inc. New · 1W · NYSE', c: '#6a6d78' },
  { x: 249, w: 9, t: 'O', c: '#6a6d78' },
  { x: 258, w: 35, t: '514.93', c: '#131722' },
  { x: 300, w: 9, t: 'H', c: '#6a6d78' },
  { x: 309, w: 35, t: '525.44', c: '#131722' },
  { x: 351, w: 7, t: 'L', c: '#6a6d78' },
  { x: 358, w: 35, t: '508.81', c: '#131722' },
  { x: 400, w: 8, t: 'C', c: '#6a6d78' },
  { x: 408, w: 35, t: '521.80', c: '#131722' },
  { x: 451, w: 85, t: '+10.26 (+2.01%)', c: '#131722' }
]
svg.selectAll('.legend').data(legend).enter().append('text')
  .attr('x', d => d.x).attr('y', 46)
  .attr('textLength', d => d.w).attr('lengthAdjust', 'spacingAndGlyphs')
  .style('font-size', '12.5px').style('fill', d => d.c)
  .text(d => d.t)

// indicator icon on the chart
const icon = svg.append('g').attr('transform', 'translate(1228, 702)')
icon.append('circle').attr('r', 9).style('fill', '#fff').style('stroke', '#8e24aa').style('stroke-width', 1.3)
icon.append('path').attr('d', 'M2.5,-7 L-3,1 L0,1 L-2,7 L4.5,-2 L1,-2 Z').style('fill', '#e91e63')
icon.append('path').attr('d', 'M-10,-2 L-8.5,1.5 L-5,3 L-8.5,4.5 L-10,8 L-11.5,4.5 L-15,3 L-11.5,1.5 Z').style('fill', '#5e35d6')

// logo
const logo = svg.append('g')
logo.append('path').attr('d', 'M12,913 H27 V928 H20 V920 H12 Z').style('fill', '#131722')
logo.append('circle').attr('cx', 31).attr('cy', 916.5).attr('r', 3.5).style('fill', '#131722')
logo.append('path').attr('d', 'M36,913 H43 L36.5,928 H29.5 Z').style('fill', '#131722')
svg.append('text')
  .attr('x', 49).attr('y', 927)
  .attr('textLength', 121).attr('lengthAdjust', 'spacingAndGlyphs')
  .style('font-family', "Inter, Roboto, sans-serif").style('font-size', '20px').style('font-weight', 600).style('fill', '#131722')
  .text('TradingView')
</script>
</body>
</html>
